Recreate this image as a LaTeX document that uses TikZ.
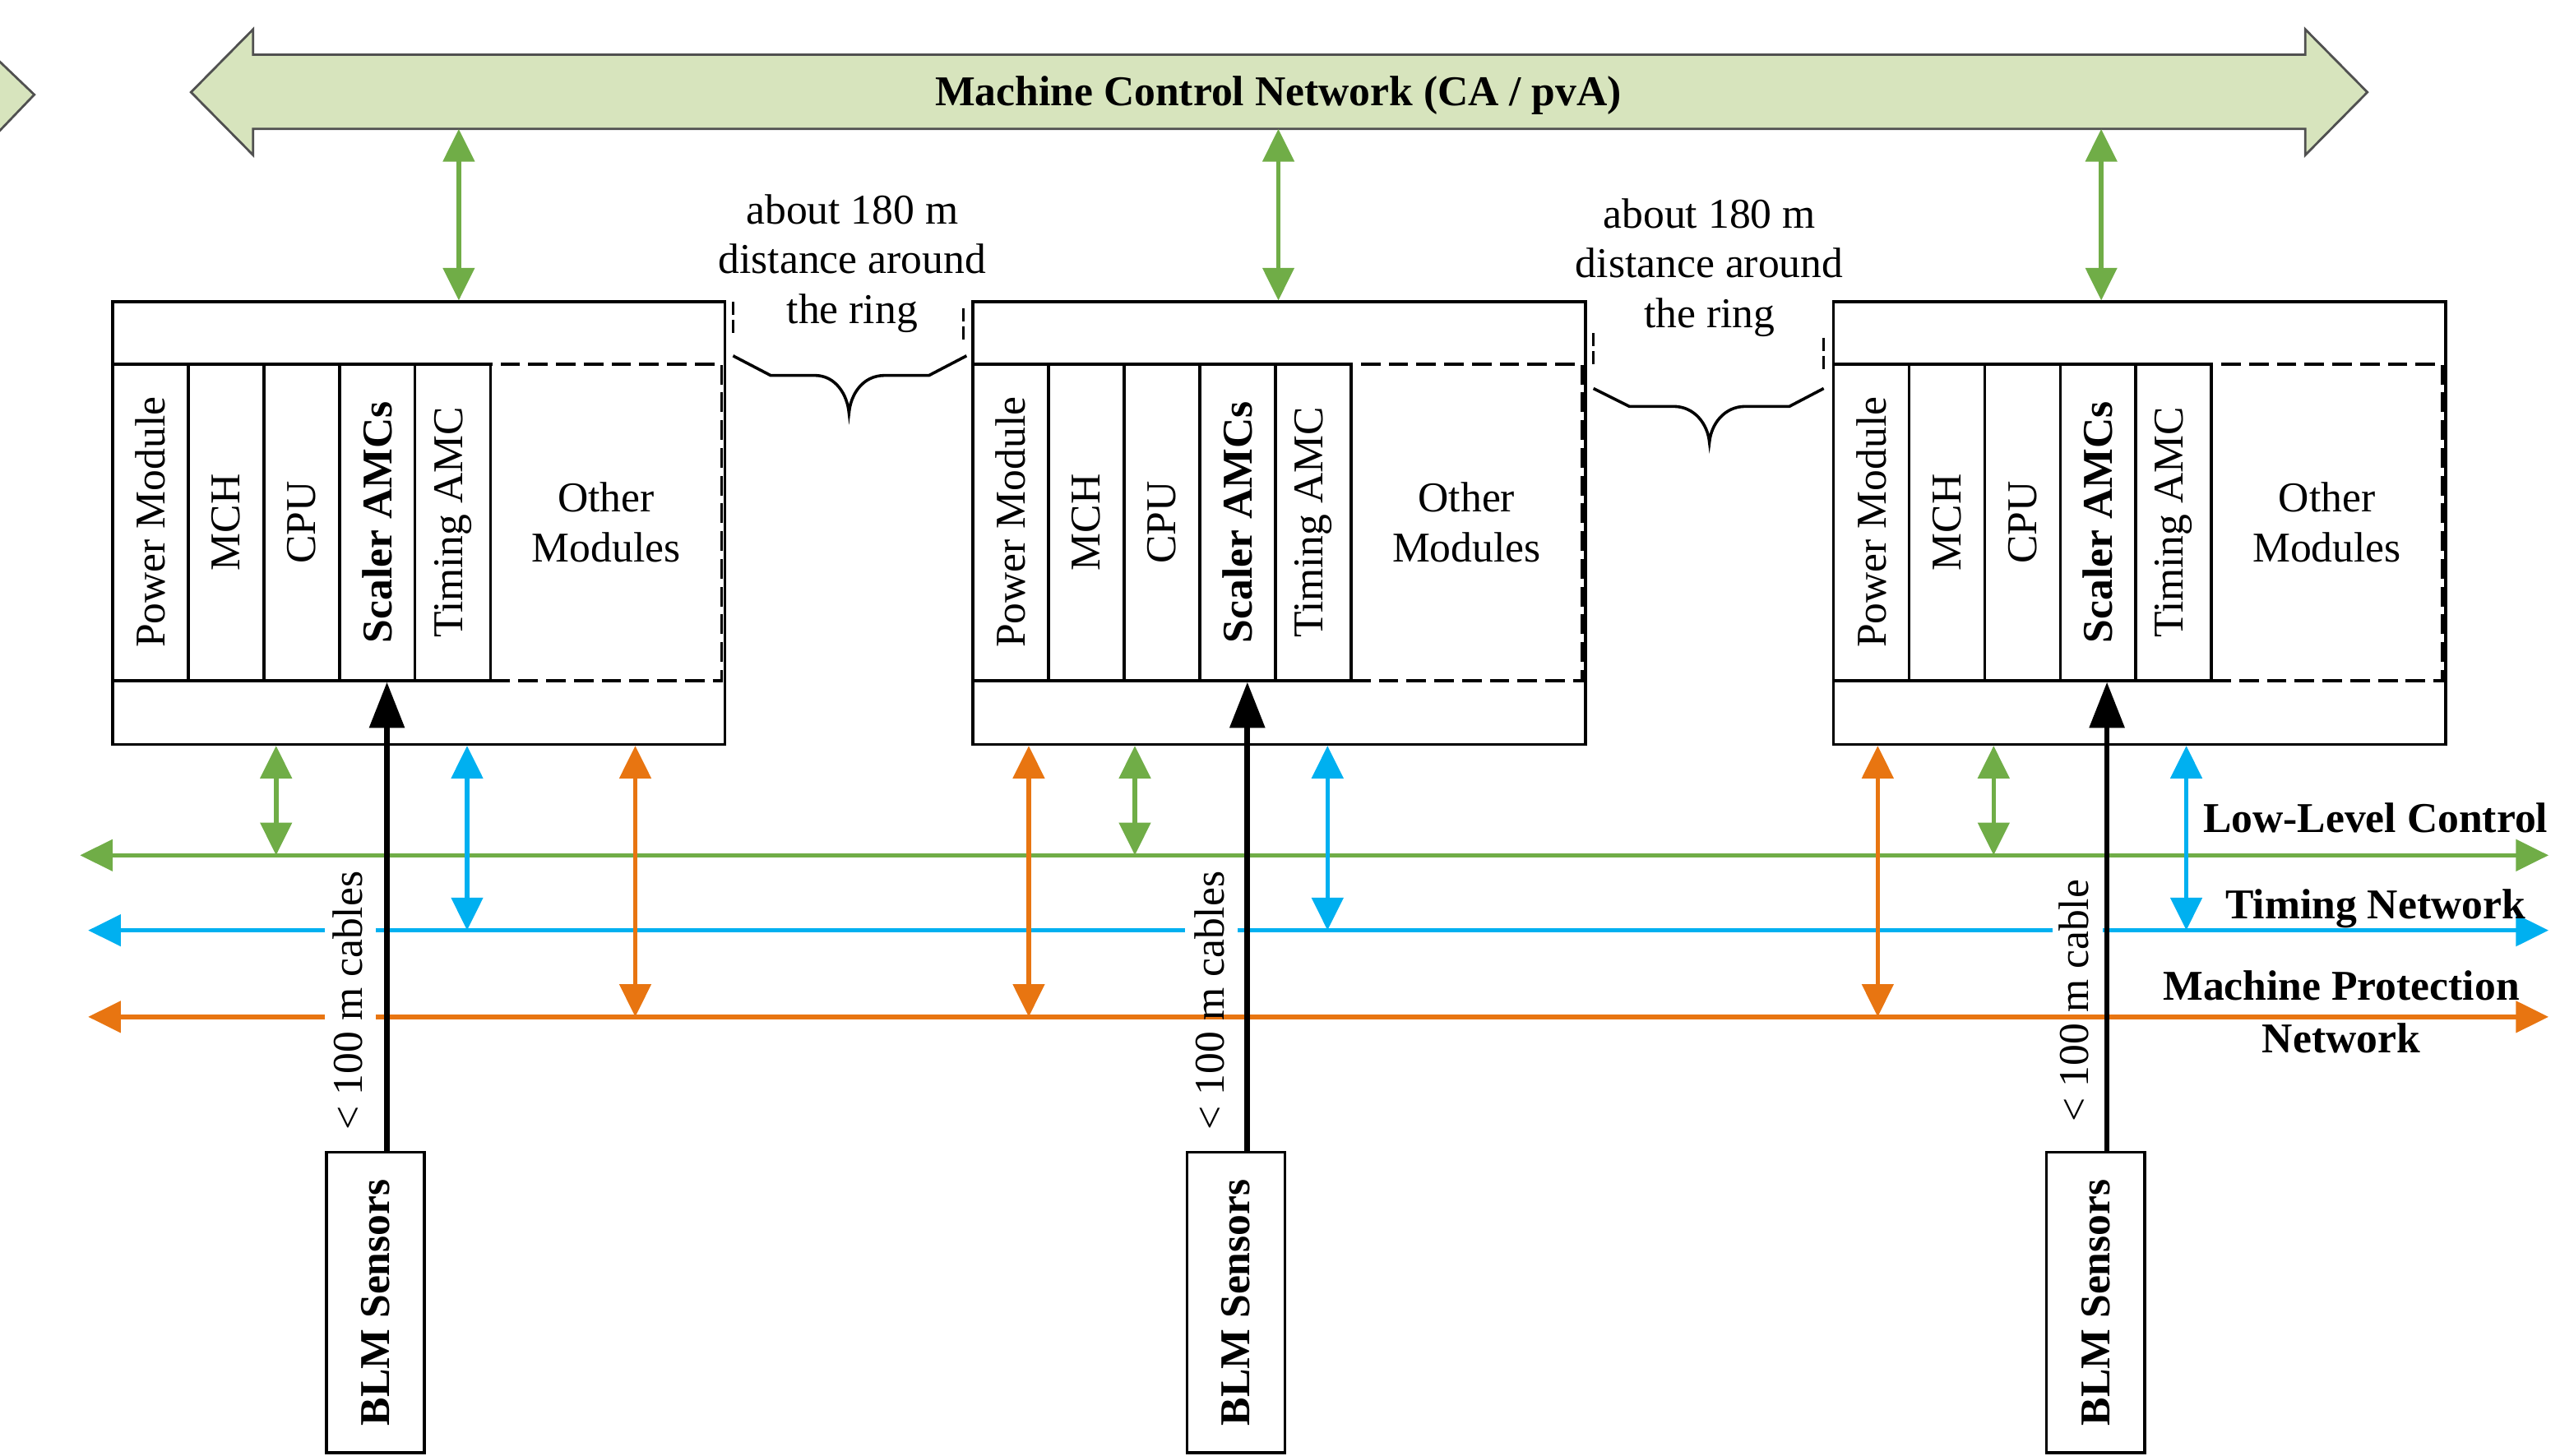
\documentclass[tikz,border=0pt]{standalone}
\usepackage{fontspec}
\usepackage{graphicx}
\setmainfont{Liberation Serif}
\usetikzlibrary{arrows.meta}
\definecolor{mcfill}{HTML}{D7E4BD}
\definecolor{mcline}{HTML}{505050}
\definecolor{llgreen}{HTML}{70AD47}
\definecolor{tblue}{HTML}{00B0F0}
\definecolor{mporange}{HTML}{E87511}
\begin{document}
\begin{tikzpicture}[x=0.5pt,y=-0.5pt,
  font=\fontsize{13}{15.5}\selectfont,
  box/.style={draw=black, line width=0.9pt, inner sep=0pt},
  modbox/.style={box, minimum width=23.15pt, minimum height=97pt},
  otherbox/.style={draw=black, line width=0.9pt, dash pattern=on 6pt off 2.5pt, inner sep=0pt, minimum width=70.75pt, minimum height=97pt, align=center, font=\fontsize{13}{15.5}\selectfont},
  bi/.style={{Triangle[length=10pt,width=9.5pt]}-{Triangle[length=10pt,width=9.5pt]}, line width=1.4pt},
  cable/.style={-{Triangle[length=14pt,width=10.5pt]}, line width=1.7pt, black},
  lbl/.style={font=\fontsize{13}{16}\selectfont\bfseries, inner sep=0pt},
  brace/.style={draw=black, line width=0.9pt},
  bracedash/.style={draw=black, line width=0.9pt, dash pattern=on 4pt off 1.5pt}
]
\useasboundingbox (0,0) rectangle (1568,892);

% partial arrow at left edge
\fill[mcfill] (-2,36) -- (21,58) -- (-2,82) -- cycle;
\draw[mcline, line width=0.7pt] (-2,36) -- (21,58) -- (-2,82);

% machine control network arrow
\filldraw[fill=mcfill, draw=mcline, line width=0.7pt]
  (117,56.5) -- (155,18) -- (155,33.5) -- (1412,33.5) -- (1412,18) -- (1450,56.5)
  -- (1412,95) -- (1412,79) -- (155,79) -- (155,95) -- cycle;
\node[lbl] (mcn) at (783,58.5) {Machine Control Network (CA / pvA)};
\coordinate (mcb) at (0,79);

% bus lines (coordinates)
\coordinate (llL) at (49,524);  \coordinate (llR) at (1561,524);
\coordinate (tnL) at (54,570);  \coordinate (tnR) at (1561,570);
\coordinate (mpL) at (54,623);  \coordinate (mpR) at (1561,623);
\draw[bi, llgreen] (llL) -- (llR);
\draw[bi, tblue] (tnL) -- (tnR);
\draw[bi, mporange] (mpL) -- (mpR);
% gaps behind cable labels
\fill[white] (199,563) rectangle (230,577);
\fill[white] (199,616) rectangle (230,630);
\fill[white] (726,563) rectangle (758,577);
\fill[white] (1257,563) rectangle (1288,577);

% crates
\foreach \i/\cx/\tg in {1/69/212, 2/596/187, 3/1123/164} {
  \node[box, minimum width=187.5pt, minimum height=135.5pt] (crate\i) at (\cx+187.5,320.5) {};
  \node[modbox] (pm\i) at (\cx+23.15,320) {\rotatebox{90}{Power Module}};
  \node[modbox] (mch\i) at (\cx+69.45,320) {\rotatebox{90}{MCH}};
  \node[modbox] (cpu\i) at (\cx+115.75,320) {\rotatebox{90}{CPU}};
  \node[modbox] (scal\i) at (\cx+162.05,320) {\rotatebox{90}{\bfseries Scaler AMCs}};
  \node[modbox] (tim\i) at (\cx+208.35,320) {\rotatebox{90}{Timing AMC}};
  \node[otherbox] (oth\i) at (\cx+302.25,320) {Other\\Modules};
  % link to machine control network
  \coordinate (up\i) at (\cx+\tg,79);
  \draw[bi, llgreen] (up\i) -- (up\i |- crate\i.north);
}

% BLM sensor boxes and cable labels
\foreach \i/\bx/\lx/\txt in {1/230/213/{< 100 m cables}, 2/757/741/{< 100 m cables}, 3/1283.5/1270/{< 100 m cable}} {
  \node[box, minimum width=30pt, minimum height=92pt] (blm\i) at (\bx,798) {\rotatebox{90}{\bfseries BLM Sensors}};
  \node[inner sep=0pt] (cl\i) at (\lx,613) {\rotatebox{90}{\txt}};
}

% vertical links crate <-> buses, and cables
\foreach \i/\og/\ob/\oo in {1/101/218/321, 2/100/218/35, 3/99/217/28} {
  \path ([xshift=\og*0.5pt]crate\i.south west) coordinate (g\i);
  \path ([xshift=\ob*0.5pt]crate\i.south west) coordinate (b\i);
  \path ([xshift=\oo*0.5pt]crate\i.south west) coordinate (o\i);
  \draw[bi, llgreen] (g\i) -- (g\i |- llL);
  \draw[bi, tblue] (b\i) -- (b\i |- tnL);
  \draw[bi, mporange] (o\i) -- (o\i |- mpL);
  \path ([xshift=3.5pt]blm\i.north) coordinate (cb\i);
  \draw[cable] (cb\i) -- (cb\i |- oth\i.south);
}

% distance braces
\node[align=center, font=\fontsize{13}{15.25}\selectfont] (d12) at (522,161.5) {about 180 m\\distance around\\the ring};
\node[align=center, font=\fontsize{13}{15.25}\selectfont] (d23) at (1047,164) {about 180 m\\distance around\\the ring};
\draw[bracedash] (449,185) -- (449,206);
\draw[bracedash] (590,189) -- (590,209);
\draw[brace] (449,218) -- (472,230) -- (499,230) .. controls (512,230) and (519,242) .. (520,253)
  .. controls (521,242) and (528,230) .. (542,230) -- (569,230) -- (592,218);
\draw[bracedash] (976,204) -- (976,224);
\draw[bracedash] (1117,207) -- (1117,228);
\draw[brace] (976,238) -- (998,249) -- (1025,249) .. controls (1038,249) and (1046,260) .. (1047,271)
  .. controls (1048,260) and (1056,249) .. (1069,249) -- (1096,249) -- (1117,238);

% bus labels
\node[lbl, anchor=base] (lab1) at (1455,510) {Low-Level Control};
\node[lbl, anchor=base] (lab2) at (1455,563) {Timing Network};
\node[lbl, align=center] (lab3) at (1434,620) {Machine Protection\\Network};
\end{tikzpicture}
\end{document}
